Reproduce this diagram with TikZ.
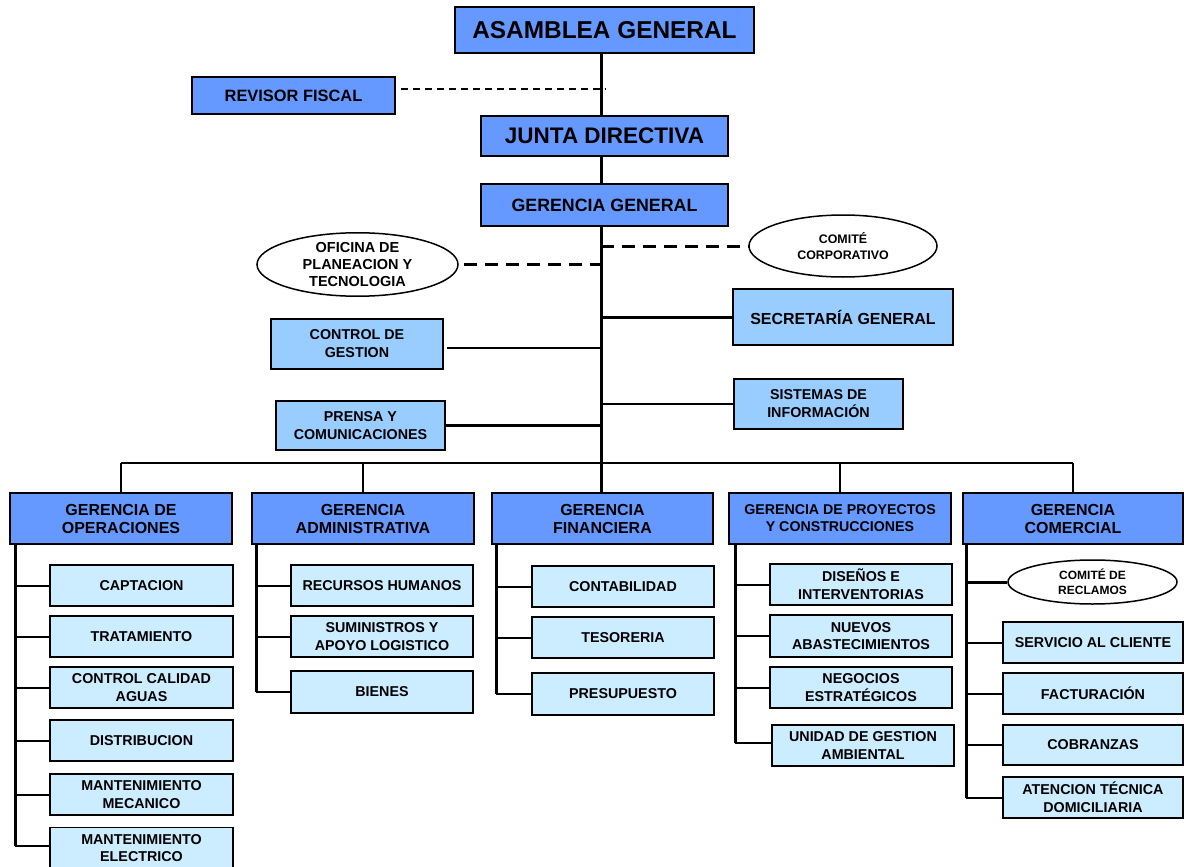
\documentclass[tikz,border=0pt]{standalone}
\usepackage{fontspec}
\setmainfont{Liberation Sans}
\usetikzlibrary{shapes.geometric}
\definecolor{hdrblue}{HTML}{6699FF}
\definecolor{staffblue}{HTML}{99CCFF}
\definecolor{unitblue}{HTML}{CCECFF}
\tikzset{
  box/.style={draw=black, line width=1.7pt, inner sep=0pt, align=center},
  hdr/.style={box, fill=hdrblue},
  mgr/.style={hdr, minimum height=51pt, font=\fontsize{16}{18}\selectfont\bfseries},
  staff/.style={box, fill=staffblue, font=\fontsize{14.3}{18}\selectfont\bfseries},
  unit/.style={box, fill=unitblue, minimum height=41pt, font=\fontsize{14.3}{17.7}\selectfont\bfseries},
  oval/.style={ellipse, draw=black, line width=1.5pt, fill=white, inner sep=0pt, align=center},
  trunk/.style={line width=3pt},
  thinln/.style={line width=1.5pt},
  link/.style={line width=2pt},
  spine/.style={line width=3pt},
  dashthin/.style={line width=1.5pt, dash pattern=on 7pt off 5pt},
  dashthick/.style={line width=3pt, dash pattern=on 13pt off 8pt},
}
\begin{document}
\begin{tikzpicture}[x=1pt,y=-1pt]
\useasboundingbox (0,0) rectangle (1184,867);
\clip (0,0) rectangle (1184,867);

% governing bodies
\node[hdr, minimum width=299pt, minimum height=46pt, font=\fontsize{24.4}{28}\selectfont\bfseries] (asamblea) at (604.5,30) {ASAMBLEA GENERAL};
\node[hdr, minimum width=203pt, minimum height=37pt, font=\fontsize{16.4}{19}\selectfont\bfseries] (revisor) at (293.5,95.5) {REVISOR FISCAL};
\node[hdr, minimum width=247pt, minimum height=40pt, font=\fontsize{22.5}{26}\selectfont\bfseries] (junta) at (604.5,136) {JUNTA DIRECTIVA};
\node[hdr, minimum width=247pt, minimum height=42pt, font=\fontsize{17.8}{20}\selectfont\bfseries] (gg) at (604.5,205) {GERENCIA GENERAL};

% advisory and staff units
\node[oval, minimum width=201pt, minimum height=63pt, font=\fontsize{14.5}{17.3}\selectfont\bfseries] (oficina) at (357.5,264.5) {OFICINA DE\\PLANEACION Y\\TECNOLOGIA};
\node[oval, minimum width=188pt, minimum height=62pt, font=\fontsize{12.4}{16}\selectfont\bfseries] (comcorp) at (843,246) {COMITÉ\\CORPORATIVO};
\node[staff, minimum width=220pt, minimum height=56pt, font=\fontsize{16}{19}\selectfont\bfseries] (secre) at (843,317) {SECRETARÍA GENERAL};
\node[staff, minimum width=172pt, minimum height=50pt] (control) at (357,344) {CONTROL DE\\GESTION};
\node[staff, minimum width=169pt, minimum height=50pt] (sistemas) at (818.5,404) {SISTEMAS DE\\INFORMACIÓN};
\node[staff, minimum width=169pt, minimum height=49pt] (prensa) at (360.5,425.5) {PRENSA Y\\COMUNICACIONES};

% managements
\node[mgr, minimum width=222pt] (oper) at (121,518.5) {GERENCIA DE\\OPERACIONES};
\node[mgr, minimum width=222pt] (admin) at (363,518.5) {GERENCIA\\ADMINISTRATIVA};
\node[mgr, minimum width=221pt] (finan) at (602.5,518.5) {GERENCIA\\FINANCIERA};
\node[mgr, minimum width=222pt, font=\fontsize{14.2}{17}\selectfont\bfseries] (proy) at (840,518.5) {GERENCIA DE PROYECTOS\\Y CONSTRUCCIONES};
\node[mgr, minimum width=220pt] (comer) at (1073,518.5) {GERENCIA\\COMERCIAL};

% operations units
\node[unit, minimum width=183pt] (cap) at (141.5,585.5) {CAPTACION};
\node[unit, minimum width=183pt] (trat) at (141.5,636.5) {TRATAMIENTO};
\node[unit, minimum width=183pt] (ccal) at (141.5,687.5) {CONTROL CALIDAD\\AGUAS};
\node[unit, minimum width=183pt] (dist) at (141.5,740.5) {DISTRIBUCION};
\node[unit, minimum width=183pt] (mmec) at (141.5,794.5) {MANTENIMIENTO\\MECANICO};
\node[unit, minimum width=183pt] (melec) at (141.5,848) {MANTENIMIENTO\\ELECTRICO};

% administrative units
\node[unit, minimum width=182pt] (rrhh) at (382,585.5) {RECURSOS HUMANOS};
\node[unit, minimum width=182pt] (sumin) at (382,636.5) {SUMINISTROS Y\\APOYO LOGISTICO};
\node[unit, minimum width=182pt, minimum height=42pt] (bienes) at (382,692) {BIENES};

% financial units
\node[unit, minimum width=182pt] (conta) at (623,586.5) {CONTABILIDAD};
\node[unit, minimum width=182pt] (teso) at (623,637.5) {TESORERIA};
\node[unit, minimum width=182pt, minimum height=42pt] (presu) at (623,694) {PRESUPUESTO};

% projects units
\node[unit, minimum width=182pt] (disen) at (861,584.5) {DISEÑOS E\\INTERVENTORIAS};
\node[unit, minimum width=182pt, minimum height=42pt] (nuevos) at (861,636) {NUEVOS\\ABASTECIMIENTOS};
\node[unit, minimum width=182pt] (nego) at (861,687.5) {NEGOCIOS\\ESTRATÉGICOS};
\node[unit, minimum width=182pt] (unidad) at (863,745.5) {UNIDAD DE GESTION\\AMBIENTAL};

% commercial units
\node[oval, minimum width=169pt, minimum height=44pt, font=\fontsize{12}{15}\selectfont\bfseries] (reclamos) at (1092.5,582) {COMITÉ DE\\RECLAMOS};
\node[unit, minimum width=180pt] (servi) at (1093,642.5) {SERVICIO AL CLIENTE};
\node[unit, minimum width=180pt] (factu) at (1093,693.5) {FACTURACIÓN};
\node[unit, minimum width=180pt, minimum height=40pt] (cobra) at (1093,745) {COBRANZAS};
\node[unit, minimum width=180pt] (atenc) at (1093,797.5) {ATENCION TÉCNICA\\DOMICILIARIA};

% main trunk
\coordinate (tk) at (601,0);
\coordinate (bus) at (601,463);
\draw[trunk] (asamblea.south -| tk) -- (junta.north -| tk);
\draw[trunk] (junta.south -| tk) -- (gg.north -| tk);
\draw[trunk] (gg.south -| tk) -- (finan.north -| tk);

% links to advisory and staff units
\coordinate (rf) at (605,89);
\draw[dashthin] ([xshift=5pt]revisor.east |- rf) -- (rf);
\draw[dashthick] ([xshift=5pt]oficina.east) -- ([xshift=-1pt]oficina.east -| tk);
\draw[dashthick] (tk |- comcorp.west) -- (comcorp.west);
\draw[spine] (tk |- secre.west) -- (secre.west);
\coordinate (cg) at (603,348);
\draw[thinln] (cg) -- ([xshift=3pt]cg -| control.east);
\draw[link] (tk |- sistemas.west) -- (sistemas.west);
\draw[spine] (prensa.east) -- (tk |- prensa.east);

% distribution bus
\draw[thinln] (oper.north |- bus) -- (comer.north |- bus);
\foreach \m in {oper,admin,proy,comer}
  \draw[thinln] (\m.north) -- (\m.north |- bus);

% unit spines
\coordinate (s1) at (15,0);
\coordinate (s2) at (256,0);
\coordinate (s3) at (496,0);
\coordinate (s4) at (735,0);
\coordinate (s5) at (966,0);
\draw[spine] (oper.south -| s1) -- ([yshift=2pt]melec.west -| s1);
\draw[spine] (admin.south -| s2) -- (bienes.west -| s2);
\draw[spine] (finan.south -| s3) -- (presu.west -| s3);
\draw[spine] (proy.south -| s4) -- ([yshift=2.5pt]unidad.west -| s4);
\draw[spine] (comer.south -| s5) -- (atenc.west -| s5);

\foreach \n in {cap,trat,ccal,dist,mmec}
  \draw[link] (s1 |- \n.west) -- (\n.west);
\draw[link] ([yshift=2pt]s1 |- melec.west) -- ([yshift=2pt]melec.west);
\foreach \n in {rrhh,sumin,bienes}
  \draw[link] (s2 |- \n.west) -- (\n.west);
\foreach \n in {conta,teso,presu}
  \draw[link] (s3 |- \n.west) -- (\n.west);
\foreach \n in {disen,nuevos,nego}
  \draw[link] (s4 |- \n.west) -- (\n.west);
\draw[link] ([yshift=2.5pt]s4 |- unidad.west) -- ([yshift=2.5pt]unidad.west);
\draw[spine] (s5 |- reclamos.west) -- (reclamos.west);
\foreach \n in {servi,factu,cobra,atenc}
  \draw[link] (s5 |- \n.west) -- (\n.west);
\end{tikzpicture}
\end{document}
